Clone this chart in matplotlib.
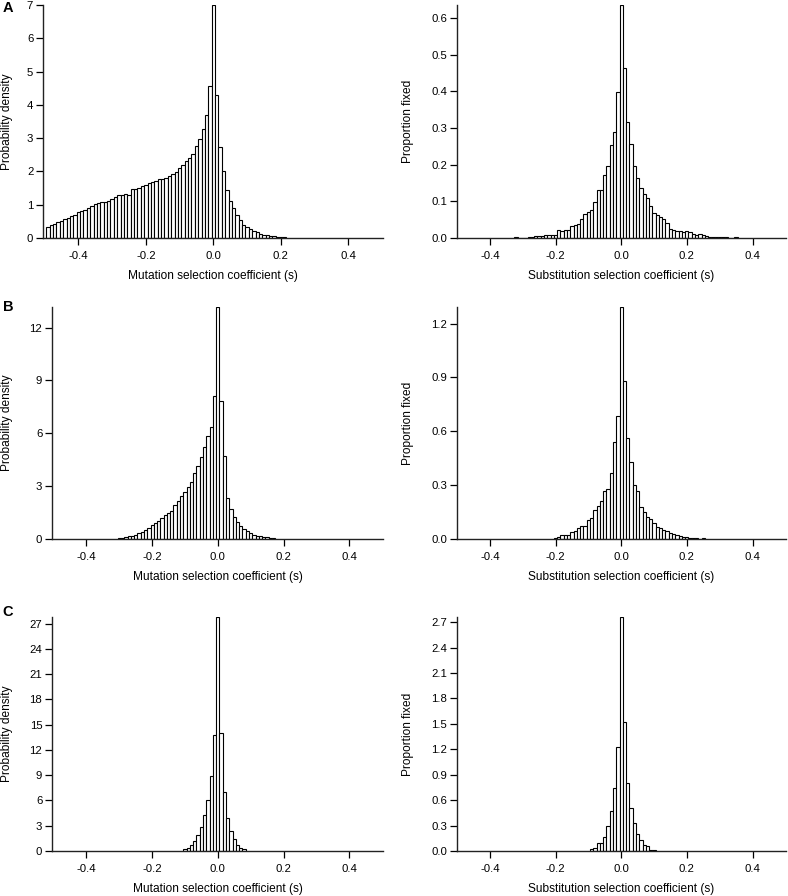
import numpy as np
import matplotlib.pyplot as plt

plt.rcParams['font.family'] = ['Liberation Sans', 'DejaVu Sans']

# bin width of the histograms
bin_w = 0.01

# Panel A, mutations: bins centred from -0.49 to 0.21
a_mut_start = -0.49
a_mut = [0.34, 0.40, 0.43, 0.48, 0.52, 0.56, 0.60, 0.67, 0.70, 0.78,
         0.82, 0.84, 0.90, 0.96, 1.01, 1.05, 1.08, 1.09, 1.12, 1.17,
         1.22, 1.29, 1.30, 1.33, 1.30, 1.47, 1.46, 1.51, 1.56, 1.60,
         1.65, 1.67, 1.72, 1.76, 1.76, 1.81, 1.86, 1.92, 1.98, 2.10,
         2.18, 2.30, 2.39, 2.52, 2.76, 2.96, 3.28, 3.69, 4.56,
         7.00,
         4.29, 2.72, 2.02, 1.45, 1.12, 0.91, 0.68, 0.53, 0.40, 0.33,
         0.27, 0.21, 0.17, 0.13, 0.10, 0.08, 0.06, 0.05, 0.04, 0.03, 0.02]

# Panel A, substitutions: bins centred from -0.32 to 0.35
a_sub_start = -0.32
a_sub = [0.003, 0.0, 0.0, 0.0, 0.002, 0.004, 0.005, 0.005, 0.006, 0.007,
         0.009, 0.009, 0.009, 0.021, 0.020, 0.021, 0.023, 0.033, 0.035, 0.037,
         0.051, 0.066, 0.070, 0.075, 0.098, 0.130, 0.132, 0.171, 0.196, 0.254,
         0.289, 0.398,
         0.635,
         0.463, 0.315, 0.257, 0.196, 0.164, 0.135, 0.120, 0.109, 0.087, 0.069,
         0.064, 0.057, 0.051, 0.040, 0.025, 0.023, 0.019, 0.020, 0.016, 0.018,
         0.016, 0.012, 0.008, 0.012, 0.009, 0.006, 0.004, 0.004, 0.003, 0.003,
         0.003, 0.002, 0.0, 0.0, 0.003]

# Panel B, mutations: -0.30 to 0.17
b_mut_start = -0.30
b_mut = [0.04, 0.08, 0.11, 0.15, 0.17, 0.21, 0.34, 0.38, 0.53, 0.62,
         0.77, 0.91, 1.00, 1.19, 1.38, 1.47, 1.57, 1.92, 2.17, 2.45,
         2.68, 2.94, 3.23, 3.74, 4.17, 4.68, 5.25, 5.85, 6.34, 8.10,
         13.17,
         7.85, 4.74, 2.32, 1.72, 1.26, 0.98, 0.75, 0.58, 0.45, 0.32,
         0.25, 0.19, 0.15, 0.11, 0.09, 0.06, 0.04]

# Panel B, substitutions: -0.20 to 0.25
b_sub_start = -0.20
b_sub = [0.005, 0.011, 0.024, 0.024, 0.024, 0.039, 0.044, 0.060, 0.070, 0.074,
         0.107, 0.117, 0.160, 0.185, 0.210, 0.270, 0.280, 0.370, 0.540, 0.687,
         1.29,
         0.88, 0.56, 0.43, 0.30, 0.265, 0.18, 0.148, 0.12, 0.113, 0.09,
         0.067, 0.06, 0.048, 0.043, 0.033, 0.03, 0.02, 0.015, 0.011, 0.01,
         0.005, 0.005, 0.004, 0.002, 0.004]

# Panel C, mutations: -0.10 to 0.08
c_mut_start = -0.10
c_mut = [0.2, 0.4, 0.75, 1.2, 1.9, 2.9, 4.3, 6.0, 8.9, 13.8,
         27.8,
         14.0, 7.0, 3.95, 2.4, 1.45, 0.75, 0.4, 0.28]

# Panel C, substitutions: -0.09 to 0.10
c_sub_start = -0.09
c_sub = [0.02, 0.03, 0.10, 0.10, 0.16, 0.30, 0.47, 0.74, 1.23,
         2.76,
         1.52, 0.80, 0.51, 0.33, 0.20, 0.13, 0.075, 0.06, 0.015, 0.015]

panels = [
    # (letter, start, values, ylim top, yticks, tick format, ylabel)
    ('A', a_mut_start, a_mut, 7.0, np.arange(0, 8, 1), '{:.0f}', 'Probability density'),
    (None, a_sub_start, a_sub, 0.635, np.arange(0, 0.61, 0.1), '{:.1f}', 'Proportion fixed'),
    ('B', b_mut_start, b_mut, 13.17, np.arange(0, 13, 3), '{:.0f}', 'Probability density'),
    (None, b_sub_start, b_sub, 1.292, np.arange(0, 1.21, 0.3), '{:.1f}', 'Proportion fixed'),
    ('C', c_mut_start, c_mut, 27.8, np.arange(0, 28, 3), '{:.0f}', 'Probability density'),
    (None, c_sub_start, c_sub, 2.76, np.arange(0, 2.71, 0.3), '{:.1f}', 'Proportion fixed'),
]
xlabels = ['Mutation selection coefficient (s)', 'Substitution selection coefficient (s)']

W, H = 788, 896
# axes boxes in pixels: x0, x1, ytop, ybottom
boxes = [(43, 383, 5, 238), (457, 786, 5, 238),
         (52, 383, 307, 539), (457, 786, 307, 539),
         (52, 383, 617, 851), (457, 786, 617, 851)]
ylab_x = [13, 414]
letter_y = [8, 307, 612]

fig = plt.figure(figsize=(W / 100, H / 100), dpi=100)

for i, (letter, start, vals, top, yt, fmt, ylab) in enumerate(panels):
    x0, x1, yt_px, yb_px = boxes[i]
    ax = fig.add_axes([x0 / W, 1 - yb_px / H, (x1 - x0) / W, (yb_px - yt_px) / H])
    centers = start + bin_w * np.arange(len(vals))
    ax.bar(centers, vals, width=bin_w, facecolor='white', edgecolor='black',
           linewidth=0.8)
    col = i % 2
    if col == 0:
        ax.set_xlim(-0.505, 0.503)
    else:
        ax.set_xlim(-0.5, 0.502)
    ax.set_ylim(0, top)
    ax.set_xticks([-0.4, -0.2, 0.0, 0.2, 0.4])
    ax.set_xticklabels(['-0.4', '-0.2', '0.0', '0.2', '0.4'])
    ax.set_yticks(yt)
    ax.set_yticklabels([fmt.format(v) for v in yt])
    for s in ['top', 'right']:
        ax.spines[s].set_visible(False)
    for s in ['left', 'bottom']:
        ax.spines[s].set_linewidth(1.0)
        ax.spines[s].set_color('#222222')
    ax.tick_params(direction='out', length=5, width=0.9, labelsize=8.2,
                   colors='black', pad=2)
    ax.tick_params(axis='x', pad=4.5)
    ax.set_xlabel(xlabels[col], fontsize=8.6, labelpad=6)
    ax.set_ylabel(ylab, fontsize=8.6)
    ax.yaxis.set_label_coords((ylab_x[col] - x0) / (x1 - x0), 0.5)
    if letter:
        fig.text(8 / W, 1 - letter_y[i // 2] / H, letter, fontsize=10.5,
                 fontweight='bold', ha='center', va='center')

fig.savefig('out.png', dpi=100)
